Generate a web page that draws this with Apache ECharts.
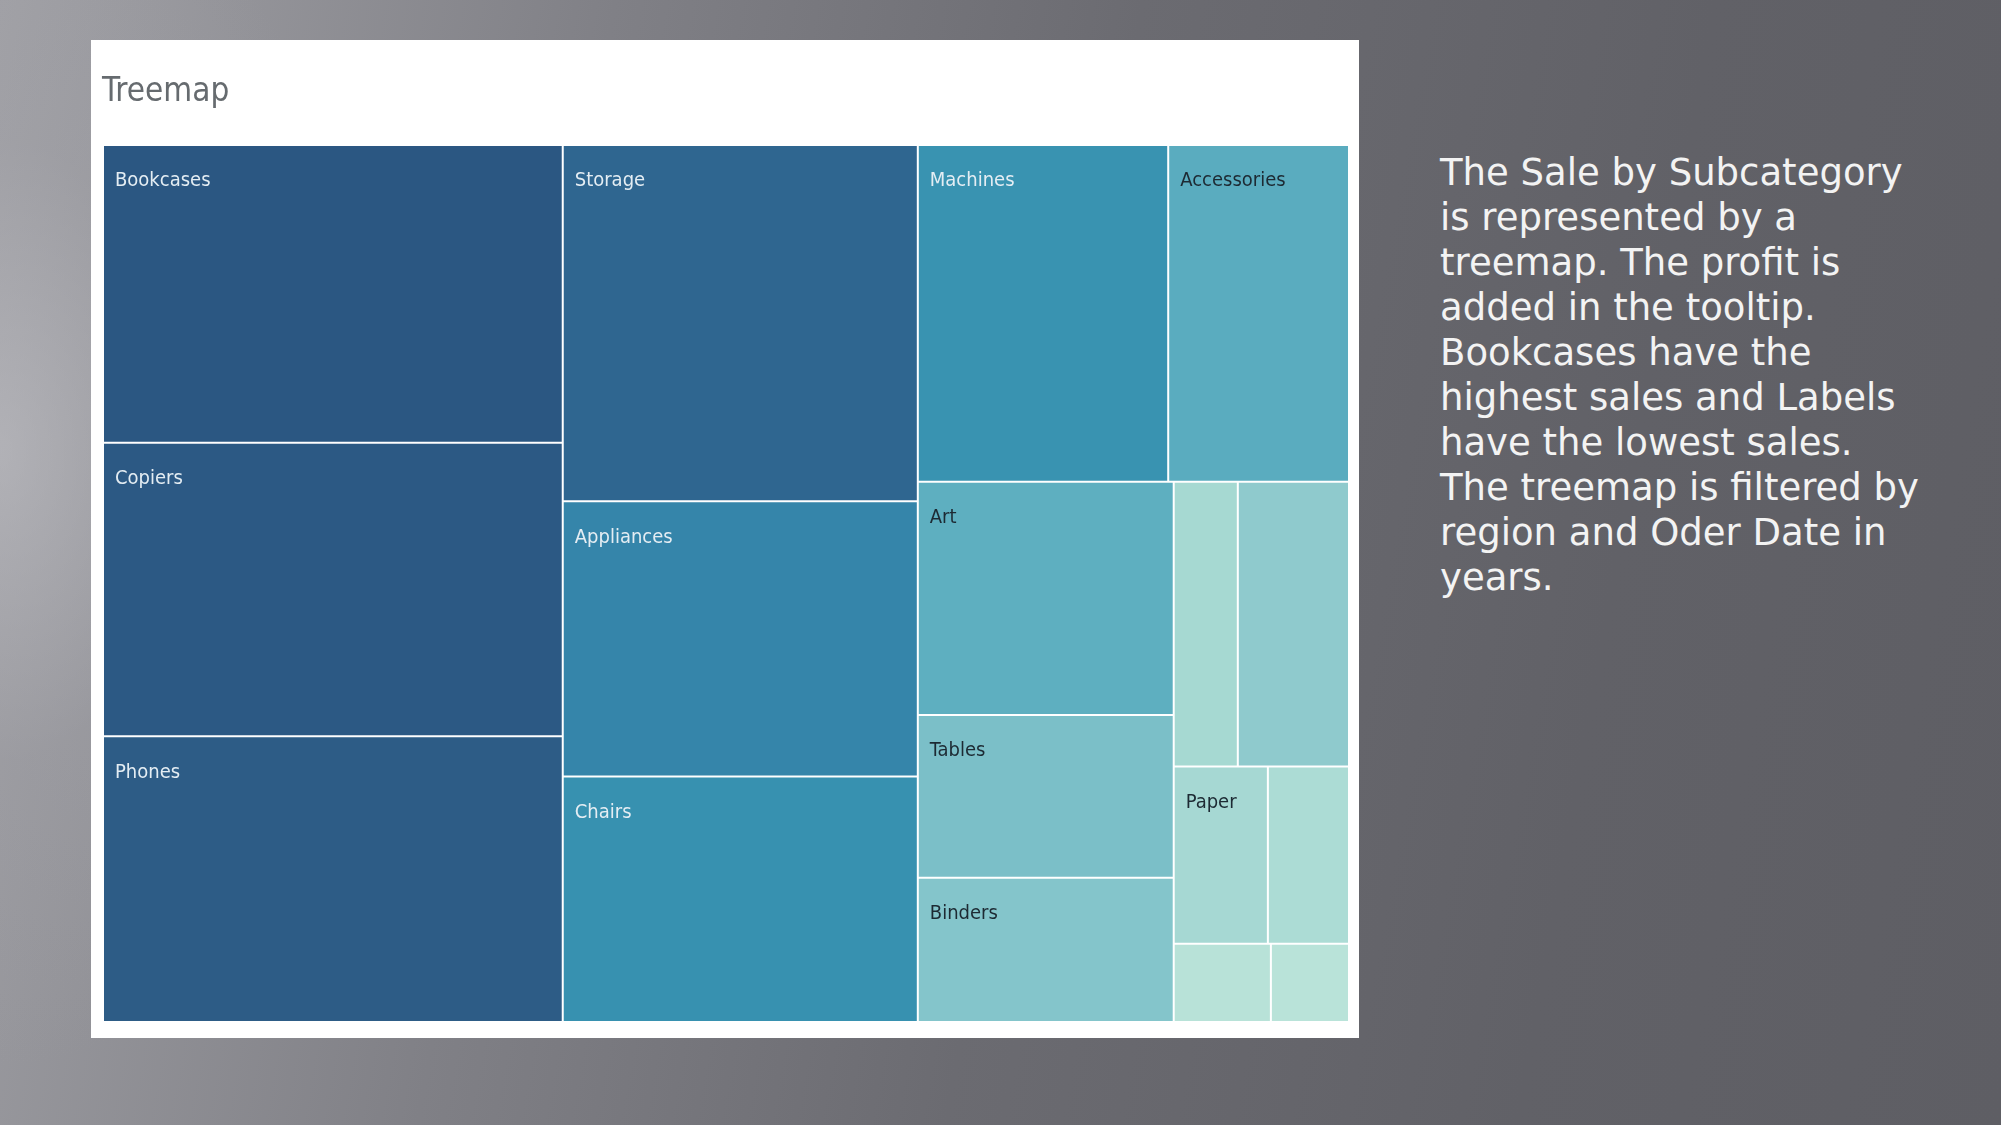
<!DOCTYPE html>
<html>
<head>
<meta charset="utf-8">
<title>Treemap</title>
<script src="https://cdn.jsdelivr.net/npm/echarts/dist/echarts.min.js"></script>
<style>
  html, body {
    margin: 0;
    padding: 0;
    width: 2001px;
    height: 1125px;
    overflow: hidden;
  }
  body {
    position: relative;
    background:
      radial-gradient(ellipse 380px 620px at 0% 40%, rgba(195, 195, 200, 0.55) 0%, rgba(165, 165, 171, 0.25) 50%, rgba(0, 0, 0, 0) 100%),
      linear-gradient(100deg, #a0a0a5 0%, #808086 28%, #6b6b71 52%, #616167 78%, #5e5e64 100%);
  }
  #panel {
    position: absolute;
    left: 91px;
    top: 40px;
    width: 1268px;
    height: 998px;
    background: #fff;
  }
  #chart {
    width: 1268px;
    height: 998px;
  }
  #note {
    position: absolute;
    left: 1440px;
    top: 150px;
    color: #f3f3f3;
    font-family: "DejaVu Sans", sans-serif;
    font-size: 37px;
    line-height: 45px;
    white-space: nowrap;
  }
</style>
</head>
<body>
<div id="panel"><div id="chart"></div></div>
<div id="note">
  The Sale by Subcategory<br>
  is represented by a<br>
  treemap. The profit is<br>
  added in the tooltip.<br>
  Bookcases have the<br>
  highest sales and Labels<br>
  have the lowest sales.<br>
  The treemap is filtered by<br>
  region and Oder Date in<br>
  years.
</div>
<script>
// sales by subcategory
const subcategories = ['Bookcases', 'Copiers', 'Phones', 'Storage', 'Appliances', 'Chairs',
  'Machines', 'Accessories', 'Art', 'Tables', 'Binders', 'Furnishings', 'Supplies',
  'Paper', 'Envelopes', 'Fasteners', 'Labels']
const sales = [34081, 33622, 32704, 31506, 24328, 21713, 21000, 15162, 14857, 10373,
  9198, 7881, 4544, 4160, 3584, 1892, 1521]
// cells too small for Tableau to print a label
const unlabeled = ['Furnishings', 'Supplies', 'Envelopes', 'Fasteners', 'Labels']

// styles
const cellColors = ['#2b5782', '#2c5984', '#2d5c86', '#2f6690', '#3585aa', '#3791b0',
  '#3993b1', '#5aacbf', '#5eafc0', '#7bbfc8', '#84c5cb', '#8fcacd', '#a6d9d2',
  '#a6d8d3', '#acdcd5', '#b8e2d8', '#b9e3d9']
const darkText = ['Accessories', 'Art', 'Tables', 'Binders', 'Paper']
const labelFont = '"DejaVu Sans Condensed", "Liberation Sans Narrow", sans-serif'

// invisible grouping (indices into the arrays above) so the squarify
// layout splits the area the same way the Tableau sheet does
const layoutTree = [0, 1, 2, [[[3, 4], 5], [6, 7, [[[8, 9], 10], [[12, 11], [13, 14], [15, 16]]]]]]

function buildNode(spec) {
  if (Array.isArray(spec)) {
    return {
      name: '',
      children: spec.map(buildNode),
      itemStyle: { borderWidth: 0, gapWidth: 0 }
    }
  }
  const name = subcategories[spec]
  return {
    name: name,
    value: sales[spec],
    itemStyle: { color: cellColors[spec], borderWidth: 1, borderColor: '#ffffff' },
    label: {
      show: unlabeled.indexOf(name) < 0,
      color: darkText.indexOf(name) >= 0 ? '#1d2a33' : '#e4edf3'
    }
  }
}

const chart = echarts.init(document.getElementById('chart'))
chart.setOption({
  animation: false,
  title: {
    text: 'Treemap',
    left: 6,
    top: 31,
    textStyle: {
      fontFamily: labelFont,
      fontSize: 33,
      fontWeight: 'normal',
      color: '#666b6f'
    }
  },
  tooltip: {
    formatter: function(p) {
      return p.name ? p.name + '<br/>Sales: ' + p.value.toLocaleString() : ''
    }
  },
  series: [
    {
      type: 'treemap',
      left: 12,
      top: 105,
      width: 1246,
      height: 877,
      roam: false,
      nodeClick: false,
      sort: false,
      squareRatio: 1.72,
      breadcrumb: { show: false },
      upperLabel: { show: false },
      itemStyle: { borderWidth: 0, gapWidth: 0, borderColor: '#ffffff' },
      label: {
        position: 'insideTopLeft',
        distance: 0,
        padding: [25, 4, 0, 11],
        fontFamily: labelFont,
        fontSize: 20
      },
      data: layoutTree.map(buildNode)
    }
  ]
})
</script>
</body>
</html>
